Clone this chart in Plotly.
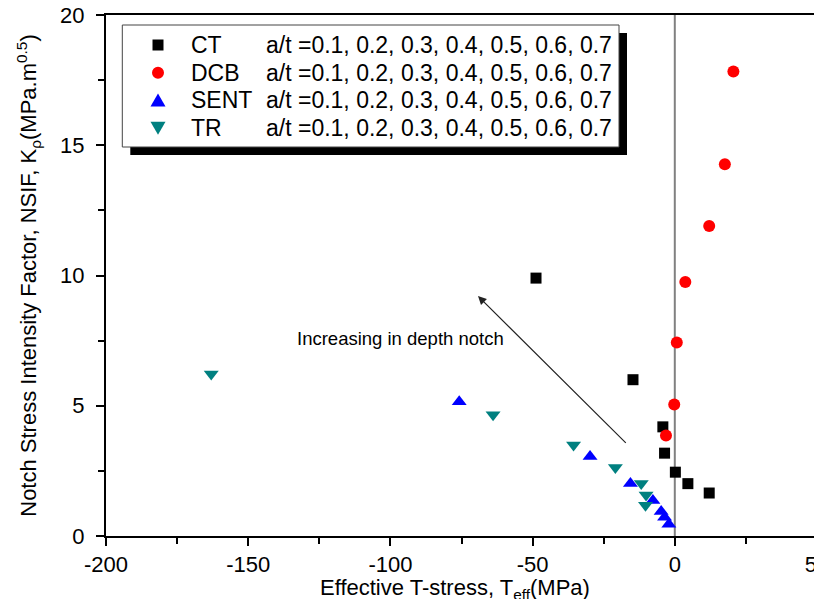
import plotly.graph_objects as go

# ---------------- data ----------------
ct_x = [-48.8, -14.7, -4.2, -3.6, 0.2, 4.6, 12.1]
ct_y = [9.90, 6.00, 4.19, 3.18, 2.45, 2.01, 1.65]

dcb_x = [-3.1, -0.2, 0.7, 3.7, 12.1, 17.6, 20.6]
dcb_y = [3.86, 5.05, 7.43, 9.75, 11.90, 14.27, 17.83]

sent_x = [-75.8, -29.8, -15.6, -7.7, -4.8, -3.6, -2.1]
sent_y = [5.15, 3.05, 2.02, 1.36, 0.94, 0.72, 0.45]

tr_x = [-163.0, -63.9, -35.6, -20.9, -11.8, -10.1, -10.3]
tr_y = [6.22, 4.65, 3.49, 2.63, 2.02, 1.57, 1.18]

series_names = ["CT", "DCB", "SENT", "TR"]
series_text = "a/t =0.1, 0.2, 0.3, 0.4, 0.5, 0.6, 0.7"
x_ticks = [-200, -150, -100, -50, 0, 50]
y_ticks = [0, 5, 10, 15, 20]
x_title = "Effective T-stress, T<sub>eff</sub>(MPa)"
y_title = "Notch Stress Intensity Factor, NSIF, K<sub>ρ</sub>(MPa.m<sup>0.5</sup>)"

FONT = "Liberation Sans, Arial, sans-serif"
# the page body has an 8px margin; size the figure so the page does not scroll
OFF = 8
W, H = 822 - OFF, 607 - 2 * OFF
ML, MR, MT = 106 - OFF, 5, 15 - OFF
MB = H - (536 - OFF)
PW, PH = W - ML - MR, H - MT - MB


def px(x):
    """window pixel x -> paper coordinate"""
    return (x - OFF - ML) / PW


def py(y):
    """window pixel y -> paper coordinate"""
    return (H - MB - (y - OFF)) / PH


fig = go.Figure()
fig.add_trace(go.Scatter(x=ct_x, y=ct_y, mode="markers", name="CT",
                         marker=dict(symbol="square", size=11, color="black")))
fig.add_trace(go.Scatter(x=dcb_x, y=dcb_y, mode="markers", name="DCB",
                         marker=dict(symbol="circle", size=12, color="#FF0000")))
fig.add_trace(go.Scatter(x=sent_x, y=sent_y, mode="markers", name="SENT",
                         marker=dict(symbol="triangle-up", size=13, color="#0000FF")))
fig.add_trace(go.Scatter(x=tr_x, y=tr_y, mode="markers", name="TR",
                         marker=dict(symbol="triangle-down", size=13, color="#008080")))

shapes = []
# vertical line at T=0
shapes.append(dict(type="line", xref="x", yref="y", x0=0, x1=0, y0=0, y1=20,
                   line=dict(color="#808080", width=2), layer="below"))

# custom legend box with shadow
bx0, bx1, by0, by1 = 122.3, 619, 25, 147
sh = 8
shapes.append(dict(type="rect", xref="paper", yref="paper",
                   x0=px(bx0 + sh), x1=px(bx1 + sh), y0=py(by1 + sh), y1=py(by0 + sh),
                   fillcolor="black", line=dict(width=0)))
shapes.append(dict(type="rect", xref="paper", yref="paper",
                   x0=px(bx0), x1=px(bx1), y0=py(by1), y1=py(by0),
                   fillcolor="white", line=dict(color="#444444", width=1)))

rows = [45, 72.7, 100, 128.3]
mx = 158
# legend symbols
s = 5.5
shapes.append(dict(type="rect", xref="paper", yref="paper",
                   x0=px(mx - s), x1=px(mx + s), y0=py(rows[0] + s), y1=py(rows[0] - s),
                   fillcolor="black", line=dict(width=0)))
r = 6
shapes.append(dict(type="circle", xref="paper", yref="paper",
                   x0=px(mx - r), x1=px(mx + r), y0=py(rows[1] + r), y1=py(rows[1] - r),
                   fillcolor="#FF0000", line=dict(width=0)))
tw, th = 7.5, 6.5
yc = rows[2]
shapes.append(dict(type="path", xref="paper", yref="paper",
                   path=f"M {px(mx - tw)},{py(yc + th)} L {px(mx + tw)},{py(yc + th)} L {px(mx)},{py(yc - th)} Z",
                   fillcolor="#0000FF", line=dict(width=0)))
yc = rows[3]
shapes.append(dict(type="path", xref="paper", yref="paper",
                   path=f"M {px(mx - tw)},{py(yc - th)} L {px(mx + tw)},{py(yc - th)} L {px(mx)},{py(yc + th)} Z",
                   fillcolor="#008080", line=dict(width=0)))

annotations = []
for name, ry in zip(series_names, rows):
    annotations.append(dict(xref="paper", yref="paper", x=px(188.5), y=py(ry),
                            xanchor="left", yanchor="middle", showarrow=False,
                            text=name, font=dict(family=FONT, size=23, color="black")))
    annotations.append(dict(xref="paper", yref="paper", x=px(263.5), y=py(ry),
                            xanchor="left", yanchor="middle", showarrow=False,
                            text=series_text, font=dict(family=FONT, size=23, color="black")))

# arrow
annotations.append(dict(x=-69.2, y=9.21, ax=-16.7, ay=3.52, xref="x", yref="y",
                        axref="x", ayref="y", showarrow=True, arrowhead=2,
                        arrowsize=1.4, arrowwidth=1.2, arrowcolor="#222222", text=""))
annotations.append(dict(x=-96.6, y=7.6, xref="x", yref="y", showarrow=False,
                        text="Increasing in depth notch",
                        font=dict(family=FONT, size=18.5, color="black")))

# x-axis title placed as an annotation so it sits below the tick labels
annotations.append(dict(xref="paper", yref="paper", x=px(455), y=py(589),
                        xanchor="center", yanchor="middle", showarrow=False,
                        text=x_title, font=dict(family=FONT, size=22, color="black")))

fig.update_layout(
    width=W, height=H,
    margin=dict(l=ML, r=MR, t=MT, b=MB, autoexpand=False),
    paper_bgcolor="white", plot_bgcolor="white",
    showlegend=False,
    font=dict(family=FONT, size=22, color="black"),
    shapes=shapes, annotations=annotations,
)
fig.update_xaxes(
    range=[-200, 50], tickvals=x_ticks, ticktext=[str(v) for v in x_ticks],
    showgrid=False, zeroline=False, automargin=False,
    showline=True, linecolor="black", linewidth=2, mirror=True,
    ticks="outside", ticklen=8, tickwidth=2, tickcolor="black",
    minor=dict(ticks="outside", ticklen=6, tickwidth=1.5, dtick=25, tick0=0,
               tickcolor="black", showgrid=False),
    tickfont=dict(family=FONT, size=22),
    ticklabelstandoff=0, ticklabeloverflow="allow",
)
fig.update_yaxes(
    range=[0, 20], tickvals=y_ticks, ticktext=[str(v) for v in y_ticks],
    showgrid=False, zeroline=False, automargin=False,
    showline=True, linecolor="black", linewidth=2, mirror=True,
    ticks="outside", ticklen=8, tickwidth=2, tickcolor="black",
    minor=dict(ticks="outside", ticklen=6, tickwidth=1.5, dtick=2.5, tick0=0,
               tickcolor="black", showgrid=False),
    tickfont=dict(family=FONT, size=22),
    ticklabelstandoff=7, ticklabeloverflow="allow",
    title=dict(text=y_title, font=dict(family=FONT, size=22), standoff=17),
)

fig.write_html("out.html")
